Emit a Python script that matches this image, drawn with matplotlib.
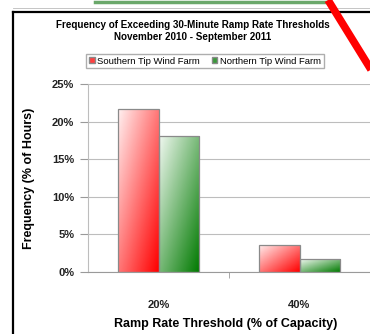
import numpy as np
import matplotlib
matplotlib.use("Agg")
from matplotlib import pyplot as plt
from matplotlib.colors import LinearSegmentedColormap
from matplotlib.lines import Line2D
from matplotlib.patches import Patch

plt.rcParams["font.family"] = ["Liberation Sans", "DejaVu Sans"]

title = "Frequency of Exceeding 30-Minute Ramp Rate Thresholds\nNovember 2010 - September 2011"
categories = ["20%", "40%"]
series_names = ["Southern Tip Wind Farm", "Northern Tip Wind Farm"]
southern = [21.7, 3.6]
northern = [18.1, 1.7]
yticks = [0, 5, 10, 15, 20, 25]
ylabel = "Frequency (% of Hours)"
xlabel = "Ramp Rate Threshold (% of Capacity)"

W, H = 370, 334
fig = plt.figure(figsize=(W / 100, H / 100), dpi=100)

# bits of the chart above and the outer frame (cropped screenshot)
fig.add_artist(Line2D([95 / W, 330 / W], [1 - 2 / H, 1 - 2 / H], color="#6aa86a", lw=2.5))
fig.add_artist(Line2D([13 / W, 1], [1 - 8 / H, 1 - 8 / H], color="#bbbbbb", lw=0.6))
fig.add_artist(Line2D([13 / W, 13 / W], [0, 1 - 12 / H], color="black", lw=1.6))
fig.add_artist(Line2D([13 / W, 1], [1 - 12 / H, 1 - 12 / H], color="black", lw=1.6))

ax = fig.add_axes([88 / W, 62 / H, 1 - 88 / W, 188 / H])
x = np.arange(len(categories))
bw = 0.285
cmaps = [LinearSegmentedColormap.from_list("r", ["#fff0f0", "#ff0000"]),
         LinearSegmentedColormap.from_list("g", ["#f0f8f0", "#007a00"])]
grad = np.add.outer(np.linspace(1, 0, 50), np.linspace(0, 1, 50)) / 2

for s, (vals, cm) in enumerate(zip([southern, northern], cmaps)):
    bars = ax.bar(x + (s - 0.5) * bw, vals, bw, facecolor="none",
                  edgecolor="#8a8a8a", lw=0.9, zorder=3)
    for b in bars:
        x0, w, h = b.get_x(), b.get_width(), b.get_height()
        im = ax.imshow(grad, cmap=cm, extent=(x0, x0 + w, 0, h), origin="lower",
                       aspect="auto", zorder=2, interpolation="bilinear")
        im.set_clip_path(b)

ax.set_xlim(-0.5, 1.5)
ax.set_ylim(0, 25)
ax.set_yticks(yticks)
ax.set_yticklabels([f"{v}%" for v in yticks], fontsize=8, fontweight="bold", color="#222222")
ax.yaxis.grid(True, color="#bdbdbd", lw=0.8)
ax.set_axisbelow(True)
ax.set_xticks(x)
ax.set_xticklabels(categories, fontsize=8, fontweight="bold", color="#222222")
ax.set_xticks([0.5], minor=True)
ax.tick_params(axis="x", which="major", length=0, pad=20)
ax.tick_params(axis="x", which="minor", length=4, color="#9a9a9a", direction="out")
ax.tick_params(axis="y", length=6, color="#9a9a9a", pad=4)
for sp in ["top", "right"]:
    ax.spines[sp].set_visible(False)
ax.spines["left"].set_color("#bdbdbd")
ax.spines["bottom"].set_color("#9a9a9a")
ax.set_ylabel(ylabel, fontsize=9, fontweight="bold")
ax.set_xlabel(xlabel, fontsize=9, fontweight="bold")
ax.yaxis.set_label_coords(-53 / 282, 0.5)
ax.xaxis.set_label_coords(0.49, -46 / 188)

fig.text(0.52, 1 - 31 / H, title, ha="center", va="center", fontsize=7.1,
         fontweight="bold", linespacing=1.3)
handles = [Patch(facecolor="#ff4040", edgecolor="#8a8a8a"),
           Patch(facecolor="#3a9a3a", edgecolor="#8a8a8a")]
fig.legend(handles, series_names, loc="center", bbox_to_anchor=(205 / W, 1 - 61 / H),
           ncol=2, fontsize=6.8, frameon=True, fancybox=False, edgecolor="#9a9a9a",
           handlelength=0.6, handleheight=0.6, handletextpad=0.3, columnspacing=1.2,
           borderpad=0.3)

# red pointer line in the top-right corner
fig.add_artist(Line2D([328 / W, 1.02], [1.0, 1 - 80 / H], color="#ff0000", lw=5.5,
                      solid_capstyle="butt"))

fig.savefig("out.png", dpi=100)
